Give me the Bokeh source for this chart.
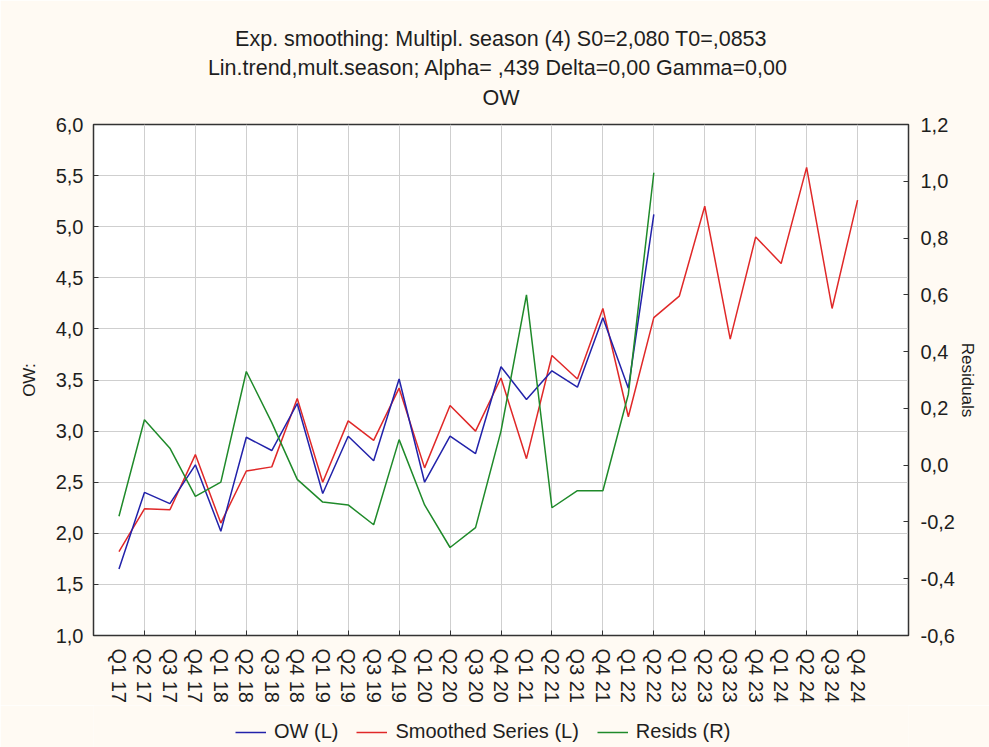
from bokeh.plotting import figure
from bokeh.layouts import column
from bokeh.models import (Range1d, LinearAxis, FixedTicker, Legend, LegendItem, Title)
from bokeh.embed import file_html
from bokeh.resources import INLINE

quarters = ["Q1 17", "Q2 17", "Q3 17", "Q4 17", "Q1 18", "Q2 18", "Q3 18", "Q4 18",
            "Q1 19", "Q2 19", "Q3 19", "Q4 19", "Q1 20", "Q2 20", "Q3 20", "Q4 20",
            "Q1 21", "Q2 21", "Q3 21", "Q4 21", "Q1 22", "Q2 22",
            "Q1 23", "Q2 23", "Q3 23", "Q4 23", "Q1 24", "Q2 24", "Q3 24", "Q4 24"]

ow = [1.65, 2.40, 2.29, 2.67, 2.02, 2.94, 2.81, 3.27, 2.39, 2.95, 2.71, 3.51,
      2.50, 2.95, 2.78, 3.63, 3.31, 3.59, 3.43, 4.11, 3.42, 5.12]

smoothed = [1.82, 2.24, 2.23, 2.77, 2.10, 2.61, 2.65, 3.32, 2.50, 3.10, 2.91, 3.42,
            2.64, 3.25, 3.00, 3.52, 2.73, 3.74, 3.51, 4.20, 3.14, 4.11,
            4.32, 5.20, 3.90, 4.90, 4.64, 5.58, 4.20, 5.26]

resids = [-0.18, 0.16, 0.06, -0.11, -0.06, 0.33, 0.15, -0.05, -0.13, -0.14, -0.21, 0.09,
          -0.14, -0.29, -0.22, 0.12, 0.60, -0.15, -0.09, -0.09, 0.25, 1.03]

left_ticks = [1.0, 1.5, 2.0, 2.5, 3.0, 3.5, 4.0, 4.5, 5.0, 5.5, 6.0]
right_ticks = [-0.6, -0.4, -0.2, 0.0, 0.2, 0.4, 0.6, 0.8, 1.0, 1.2]

title1 = "Exp. smoothing: Multipl. season (4) S0=2,080 T0=,0853"
title2 = "Lin.trend,mult.season; Alpha=  ,439 Delta=0,00 Gamma=0,00"
title3 = "OW"
series_names = ["OW (L)", "Smoothed Series (L)", "Resids (R)"]

FONT = "Liberation Sans"
TXT = "#1e1e1e"
BG = "#fffaf3"
C_OW, C_SM, C_RES = "#2222aa", "#e02828", "#1f8a2a"
TFS = "21.5px"

p = figure(width=989, height=705, output_backend="svg", toolbar_location=None,
           x_range=Range1d(-1, 31), y_range=Range1d(1.0, 6.0),
           min_border_left=93, min_border_right=81, min_border_top=124, min_border_bottom=63)
p.extra_y_ranges = {"res": Range1d(-0.6, 1.2)}

p.background_fill_color = "white"
p.border_fill_color = BG
p.outline_line_color = "#333333"
p.outline_line_width = 1.5

# titles (p.title is outermost; added titles stack outward from the frame)
p.title.text = title1
p.title.align = "center"
p.title.text_font = FONT
p.title.text_font_size = TFS
p.title.text_font_style = "normal"
p.title.text_color = TXT
p.title.standoff = 30
p.add_layout(Title(text=title3, align="center", text_font=FONT, text_font_size=TFS,
                   text_font_style="normal", text_color=TXT, standoff=30), "above")
p.add_layout(Title(text=title2, align="center", text_font=FONT, text_font_size=TFS,
                   text_font_style="normal", text_color=TXT, standoff=-23), "above")

xs_all = list(range(len(quarters)))
odd = [i for i in xs_all if i % 2 == 1]

# x axis
xa = p.xaxis[0]
xa.ticker = FixedTicker(ticks=xs_all, minor_ticks=odd)
xa.major_label_overrides = {i: q for i, q in enumerate(quarters)}
xa.major_label_orientation = "vertical"
xa.major_tick_line_color = None
xa.minor_tick_in = 5
xa.minor_tick_out = 0
xa.minor_tick_line_color = "#333333"
xa.axis_line_color = "#333333"
xa.major_label_text_font = FONT
xa.major_label_text_font_size = "20px"
xa.major_label_text_color = TXT
xa.major_label_standoff = 7
p.xgrid.ticker = FixedTicker(ticks=odd)
p.xgrid.grid_line_color = "#cfcfcf"

# left axis
ya = p.yaxis[0]
ya.ticker = FixedTicker(ticks=left_ticks)
ya.major_label_overrides = {v: f"{v:.1f}".replace(".", ",") for v in left_ticks}
ya.minor_tick_line_color = None
ya.major_tick_in = 5
ya.major_tick_out = 0
ya.axis_line_color = "#333333"
ya.major_tick_line_color = "#333333"
ya.major_label_text_font = FONT
ya.major_label_text_font_size = "20px"
ya.major_label_text_color = TXT
ya.major_label_standoff = 10
ya.axis_label = "OW:"
ya.axis_label_text_font = FONT
ya.axis_label_text_font_size = "17px"
ya.axis_label_text_font_style = "normal"
ya.axis_label_text_color = TXT
ya.axis_label_standoff = 14
p.ygrid.ticker = FixedTicker(ticks=left_ticks)
p.ygrid.grid_line_color = "#cfcfcf"

# right axis
ra = LinearAxis(y_range_name="res", ticker=FixedTicker(ticks=right_ticks))
ra.major_label_overrides = {v: f"{v:.1f}".replace(".", ",") for v in right_ticks}
ra.minor_tick_line_color = None
ra.major_tick_in = 5
ra.major_tick_out = 0
ra.axis_line_color = "#333333"
ra.major_tick_line_color = "#333333"
ra.major_label_text_font = FONT
ra.major_label_text_font_size = "20px"
ra.major_label_text_color = TXT
ra.major_label_standoff = 12
ra.axis_label = "Residuals"
ra.axis_label_text_font = FONT
ra.axis_label_text_font_size = "17px"
ra.axis_label_text_font_style = "normal"
ra.axis_label_text_color = TXT
ra.axis_label_standoff = 0
p.add_layout(ra, "right")

p.line(list(range(len(smoothed))), smoothed, line_color=C_SM, line_width=1.5)
p.line(list(range(len(ow))), ow, line_color=C_OW, line_width=1.5)
p.line(list(range(len(resids))), resids, line_color=C_RES, line_width=1.5,
       y_range_name="res")

# legend strip below the chart (its frame lines up with the chart frame)
lg = figure(width=989, height=42, output_backend="svg", toolbar_location=None,
            x_range=Range1d(-1, 31), y_range=Range1d(50, 60),
            x_axis_type=None, y_axis_type=None,
            min_border_left=93, min_border_right=81, min_border_top=0, min_border_bottom=0)
lg.title.visible = False
lg.border_fill_color = BG
lg.background_fill_color = BG
lg.outline_line_color = None
lg.xgrid.visible = False
lg.ygrid.visible = False
# same series, outside this strip's visible range; only their legend keys show
k_ow = lg.line(list(range(len(ow))), ow, line_color=C_OW, line_width=1.5)
k_sm = lg.line(list(range(len(smoothed))), smoothed, line_color=C_SM, line_width=1.5)
k_res = lg.line(list(range(len(resids))), resids, line_color=C_RES, line_width=1.5)
legend = Legend(items=[LegendItem(label=series_names[0], renderers=[k_ow]),
                       LegendItem(label=series_names[1], renderers=[k_sm]),
                       LegendItem(label=series_names[2], renderers=[k_res])],
                orientation="horizontal", location=(142, 4),
                background_fill_alpha=0, border_line_color=None,
                label_text_font=FONT, label_text_font_size="20px", label_text_color=TXT,
                glyph_width=31, label_standoff=8, spacing=18, padding=2, margin=0)
lg.add_layout(legend, "center")

layout = column(p, lg, spacing=0)
open("out.html", "w").write(file_html(layout, INLINE))
